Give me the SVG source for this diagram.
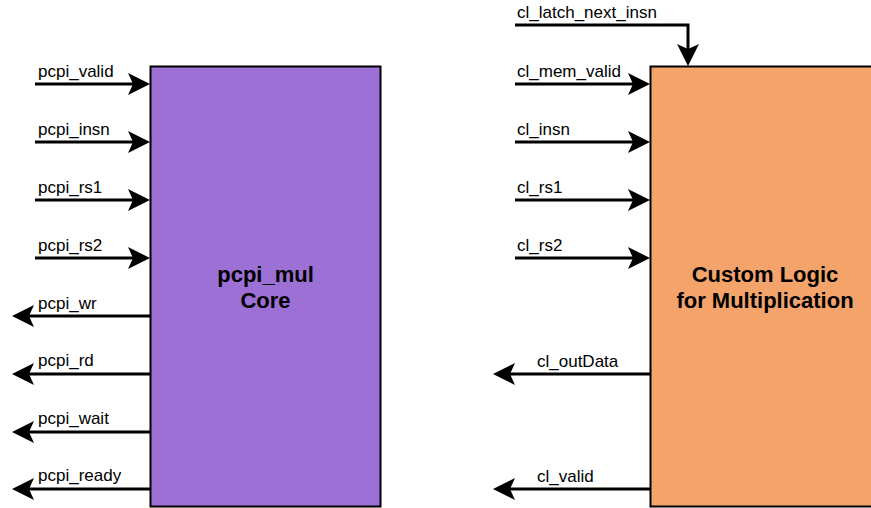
<svg xmlns="http://www.w3.org/2000/svg" width="871" height="508" viewBox="0 0 871 508">
<defs>
<marker id="arr" viewBox="0 0 22 22" refX="5" refY="11" markerWidth="22" markerHeight="22" markerUnits="userSpaceOnUse" orient="auto">
<path d="M0,0 L22,11 L0,22 L5,11 Z" fill="#000"/>
</marker>
<style>
.lbl{font-family:"Liberation Sans",Arial,sans-serif;font-size:17px;fill:#000}
.title{font-family:"Liberation Sans",Arial,sans-serif;font-size:22px;font-weight:bold;fill:#000;text-anchor:middle}
.wire{stroke:#000;stroke-width:3;fill:none;marker-end:url(#arr)}
</style>
</defs>
<rect width="871" height="508" fill="#fff"/>
<g id="pcpi_mul_core">
<rect x="150.5" y="66.5" width="230" height="440" fill="#9D70D6" stroke="#000" stroke-width="2"/>
<text class="title" x="265.5" y="282">pcpi_mul</text>
<text class="title" x="265.5" y="308">Core</text>
</g>
<g id="custom_logic">
<rect x="650.5" y="66.5" width="230" height="440" fill="#F4A46B" stroke="#000" stroke-width="2"/>
<text class="title" x="765" y="282">Custom Logic</text>
<text class="title" x="765" y="308">for Multiplication</text>
</g>
<g id="connectors">
<path class="wire" d="M35,84 H133"/>
<path class="wire" d="M35,142 H133"/>
<path class="wire" d="M35,200 H133"/>
<path class="wire" d="M35,258 H133"/>
<path class="wire" d="M150,316 H29"/>
<path class="wire" d="M150,374 H29"/>
<path class="wire" d="M150,432 H29"/>
<path class="wire" d="M150,489 H29"/>
<path class="wire" d="M515,25 H688 V49"/>
<path class="wire" d="M515,84 H633"/>
<path class="wire" d="M515,142 H633"/>
<path class="wire" d="M515,200 H633"/>
<path class="wire" d="M515,258 H633"/>
<path class="wire" d="M650,374 H510"/>
<path class="wire" d="M650,489 H510"/>
</g>
<g id="labels">
<text class="lbl" x="38" y="77">pcpi_valid</text>
<text class="lbl" x="38" y="135">pcpi_insn</text>
<text class="lbl" x="38" y="193">pcpi_rs1</text>
<text class="lbl" x="38" y="251">pcpi_rs2</text>
<text class="lbl" x="38" y="309">pcpi_wr</text>
<text class="lbl" x="38" y="366">pcpi_rd</text>
<text class="lbl" x="38" y="424">pcpi_wait</text>
<text class="lbl" x="38" y="481">pcpi_ready</text>
<text class="lbl" x="517" y="18">cl_latch_next_insn</text>
<text class="lbl" x="517" y="77">cl_mem_valid</text>
<text class="lbl" x="517" y="135">cl_insn</text>
<text class="lbl" x="517" y="193">cl_rs1</text>
<text class="lbl" x="517" y="251">cl_rs2</text>
<text class="lbl" x="537" y="367">cl_outData</text>
<text class="lbl" x="537" y="482">cl_valid</text>
</g>
</svg>
